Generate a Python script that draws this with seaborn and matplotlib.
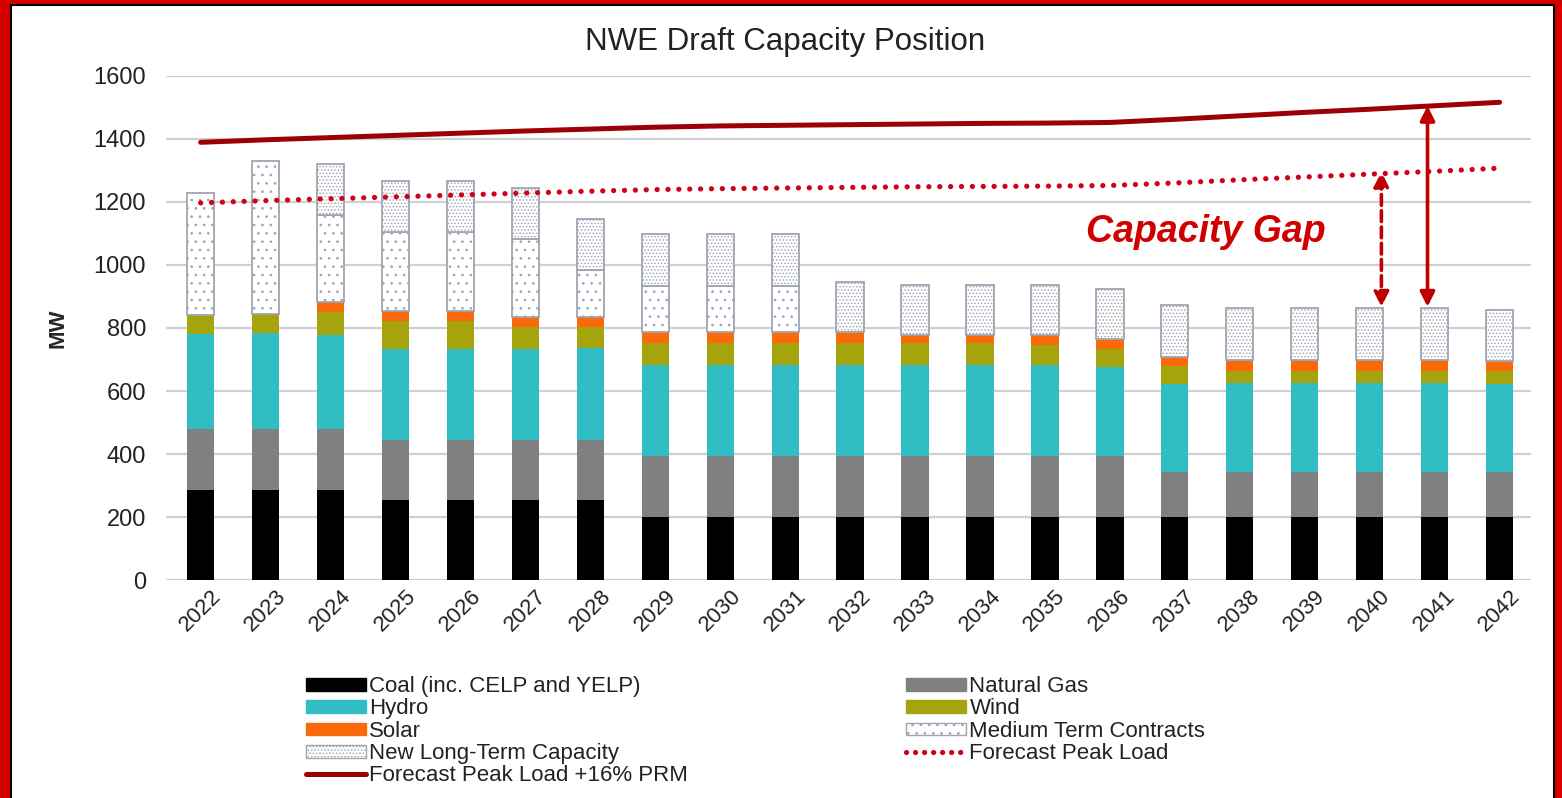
import numpy as np
import seaborn as sns
import matplotlib.pyplot as plt
from matplotlib.patches import Patch, Rectangle
from matplotlib.lines import Line2D

# data (MW)
years = list(range(2022, 2043))
coal = [287, 287, 287, 253, 253, 253, 253, 200, 200, 200, 200, 200, 200, 200, 200, 200, 200, 200, 200, 200, 200]
gas = [192, 192, 192, 191, 191, 191, 191, 194, 194, 194, 194, 194, 194, 194, 194, 143, 143, 143, 143, 143, 143]
hydro = [301, 306, 298, 290, 290, 290, 292, 289, 289, 289, 289, 289, 289, 287, 282, 279, 283, 283, 283, 283, 279]
wind = [62, 60, 74, 88, 88, 69, 67, 70, 70, 70, 70, 68, 68, 66, 58, 56, 39, 39, 39, 39, 43]
solar = [0, 0, 32, 31, 31, 32, 32, 34, 34, 34, 34, 26, 26, 30, 30, 29, 32, 32, 32, 32, 29]
medium = [387, 484, 275, 253, 253, 248, 150, 145, 145, 145, 0, 0, 0, 0, 0, 0, 0, 0, 0, 0, 0]
new_lt = [0, 0, 161, 160, 160, 161, 162, 165, 165, 165, 160, 160, 160, 160, 160, 165, 165, 165, 165, 165, 162]
peak_prm = [1389, 1397, 1404, 1411, 1418, 1425, 1431, 1437, 1441, 1443, 1445, 1447, 1449, 1450, 1452,
            1462, 1473, 1484, 1494, 1505, 1516]
peak = [1197, 1204, 1210, 1216, 1222, 1228, 1234, 1239, 1242, 1244, 1246, 1248, 1249, 1250, 1252,
        1260, 1270, 1279, 1288, 1297, 1307]

sns.set_theme(style="white")
plt.rcParams["font.family"] = ["Liberation Sans", "DejaVu Sans"]
plt.rcParams["hatch.linewidth"] = 0.7

fig = plt.figure(figsize=(15.62, 7.98), dpi=100)
fig.patch.set_facecolor("#d40000")
# white panel with thin black border inside the red frame
fig.patches.append(Rectangle((11 / 1562, -0.01), (1554 - 11) / 1562, 1.01 - 5 / 798,
                             transform=fig.transFigure, facecolor="white", edgecolor="black",
                             linewidth=1.5, zorder=-5))

ax = fig.add_axes([0.106, 0.273, 0.874, 0.632])
ax.set_facecolor("none")

layers = [
    (coal, "#000000", None),
    (gas, "#808080", None),
    (hydro, "#30bec4", None),
    (wind, "#a6a40c", None),
    (solar, "#fb6a0a", None),
    (medium, "white", ".."),
    (new_lt, "white", "....."),
]

bottom = np.zeros(len(years))
for vals, col, hatch in layers:
    vals = np.array(vals, dtype=float)
    if hatch is None:
        sns.barplot(x=years, y=vals, bottom=bottom, color=col, saturation=1, width=0.42,
                    native_scale=True, errorbar=None, edgecolor=col, linewidth=0, ax=ax, zorder=2)
    else:
        mask = vals > 0
        sns.barplot(x=np.array(years)[mask], y=vals[mask], bottom=bottom[mask], color="white",
                    saturation=1, width=0.42, native_scale=True, errorbar=None,
                    edgecolor="#a0a5b2", linewidth=1.3, hatch=hatch, ax=ax, zorder=2)
    bottom += vals

sns.lineplot(x=years, y=peak_prm, color="#9c0006", linewidth=3.6, ax=ax, zorder=3)
sns.lineplot(x=years, y=peak, color="#d0021b", linewidth=3.8, linestyle=(0, (0.01, 2.05)),
             dash_capstyle="round", ax=ax, zorder=3)

# capacity gap arrows
i40 = years.index(2040)
i41 = years.index(2041)
ax.annotate("", xy=(2040.18, peak[i40] + 8), xytext=(2040.18, bottom[i40] + 5),
            arrowprops=dict(arrowstyle="<|-|>", color="#c00000", lw=2.6, linestyle=(0, (3, 1.5)),
                            mutation_scale=22, shrinkA=0, shrinkB=0), zorder=4)
ax.annotate("", xy=(2040.89, peak_prm[i41]), xytext=(2040.89, bottom[i41] + 5),
            arrowprops=dict(arrowstyle="<|-|>", color="#c00000", lw=2.6,
                            mutation_scale=22, shrinkA=0, shrinkB=0), zorder=4)
ax.text(2037.47, 1105, "Capacity Gap", color="#d00000", fontsize=27, fontweight="bold",
        fontstyle="italic", ha="center", va="center")

ax.set_xlim(2021.46, 2042.48)
ax.set_ylim(0, 1600)
ax.set_yticks(range(0, 1601, 200))
ax.set_xticks(years)
ax.set_xticklabels([str(y) for y in years], rotation=45, ha="center", va="top", fontsize=16,
                   color="#222222")
ax.tick_params(axis="y", labelsize=17, labelcolor="#222222", pad=14, length=0)
ax.tick_params(axis="x", length=0, pad=4)
ax.grid(axis="y", color="#d0d0d0", linewidth=1.6, zorder=0)
ax.set_axisbelow(True)
for s in ax.spines.values():
    s.set_visible(False)
ax.set_xlabel("")
ax.set_ylabel("MW", fontsize=16, fontweight="bold", labelpad=18)

fig.text(785 / 1562, 1 - 42 / 798, "NWE Draft Capacity Position", ha="center", va="center",
         fontsize=22.5, color="#222222")

handles = [
    Patch(facecolor="#000000", edgecolor="#000000"),
    Patch(facecolor="#30bec4", edgecolor="#30bec4"),
    Patch(facecolor="#fb6a0a", edgecolor="#fb6a0a"),
    Patch(facecolor="white", edgecolor="#a0a5b2", hatch="....."),
    Line2D([], [], color="#9c0006", linewidth=3.6),
    Patch(facecolor="#808080", edgecolor="#808080"),
    Patch(facecolor="#a6a40c", edgecolor="#a6a40c"),
    Patch(facecolor="white", edgecolor="#a0a5b2", hatch=".."),
    Line2D([], [], color="#d0021b", linewidth=3.8, linestyle=(0, (0.01, 1.7)), dash_capstyle="round"),
]
labels = ["Coal (inc. CELP and YELP)", "Hydro", "Solar", "New Long-Term Capacity",
          "Forecast Peak Load +16% PRM", "Natural Gas", "Wind", "Medium Term Contracts",
          "Forecast Peak Load"]
fig.legend(handles, labels, loc="upper left", bbox_to_anchor=(295 / 1562, 1 - 665 / 798),
           ncol=2, frameon=False, fontsize=16, handlelength=2.7, handleheight=0.5,
           labelspacing=0.06, columnspacing=9.8, handletextpad=0.15, borderpad=0,
           labelcolor="#222222")

fig.savefig("out.png", dpi=100, facecolor=fig.get_facecolor())
